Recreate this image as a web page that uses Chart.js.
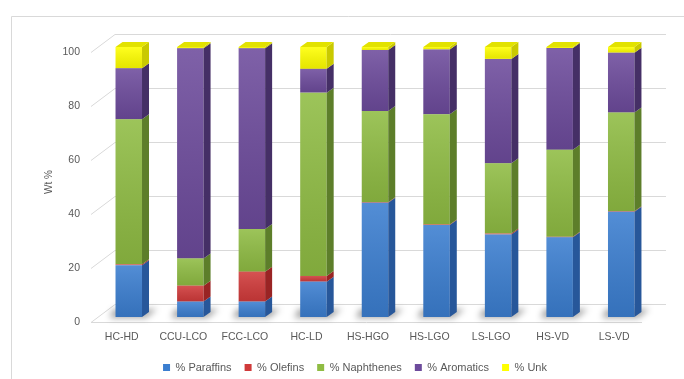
<!DOCTYPE html>
<html>
<head>
<meta charset="utf-8">
<script src="https://cdn.jsdelivr.net/npm/chart.js@4/dist/chart.umd.min.js"></script>
<style>
  html, body { margin: 0; padding: 0; background: #fff; }
  #wrap { width: 684px; height: 379px; position: relative; }
</style>
</head>
<body>
<div id="wrap"><canvas id="chart" width="684" height="379"></canvas></div>
<script>
var categories = ['HC-HD', 'CCU-LCO', 'FCC-LCO', 'HC-LD', 'HS-HGO', 'HS-LGO', 'LS-LGO', 'HS-VD', 'LS-VD'];
var paraffins = [19.2, 5.7, 5.7, 13.1, 42.3, 34.1, 30.6, 29.5, 39.0];
var olefins = [0.3, 5.9, 11.1, 2.1, 0.2, 0.2, 0.3, 0.2, 0.2];
var naphthenes = [53.7, 10.1, 15.8, 67.9, 33.8, 40.8, 26.0, 32.2, 36.5];
var aromatics = [18.9, 77.8, 66.9, 8.8, 22.6, 24.0, 38.7, 37.7, 22.2];
var unk = [7.9, 0.5, 0.5, 8.1, 1.1, 0.9, 4.4, 0.4, 2.1];
var yTicks = [0, 20, 40, 60, 80, 100];

var textColor = '#595959';
var gridColor = '#d9d9d9';
var fontFamily = "'Liberation Sans', Arial, sans-serif";

// 3d look: depth of each column, and depth of the floor / back wall
var barDx = 7, barDy = 5;
var wallDx = 24, wallDy = 18;
var floorDrop = 5; // front edge of the floor sits this far below the column fronts
var legendShift = 9; // legend is centred a bit right of the plot in the original

var series = [
  { label: '% Paraffins', data: paraffins, color: '#3b7ed0', side: '#27579a' },
  { label: '% Olefins', data: olefins, color: '#d03a3a', side: '#992424' },
  { label: '% Naphthenes', data: naphthenes, color: '#8fbc43', side: '#5d7e2a' },
  { label: '% Aromatics', data: aromatics, color: '#6d4b9c', side: '#452f66' },
  { label: '% Unk', data: unk, color: '#ffff00', side: '#c9c900', top: '#e2e200' }
];

var wallPlugin = {
  id: 'wall',
  afterUpdate: function (chart) {
    if (chart.legend) {
      chart.legend.left += legendShift;
      chart.legend.right += legendShift;
    }
  },
  beforeDatasetsDraw: function (chart) {
    var ctx = chart.ctx;
    var area = chart.chartArea;
    var y = chart.scales.y;

    ctx.save();
    // chart border
    ctx.strokeStyle = '#d9d9d9';
    ctx.lineWidth = 1;
    ctx.beginPath();
    ctx.moveTo(11.5, 390);
    ctx.lineTo(11.5, 16.5);
    ctx.lineTo(700, 16.5);
    ctx.stroke();

    // back wall gridlines with the little left-wall diagonals
    ctx.strokeStyle = gridColor;
    yTicks.forEach(function (v) {
      var fy = Math.round(y.getPixelForValue(v) + floorDrop) + 0.5;
      ctx.beginPath();
      ctx.moveTo(area.left - 7, fy);
      ctx.lineTo(area.left - 7 + wallDx, fy - wallDy);
      ctx.lineTo(area.right + 14, fy - wallDy);
      ctx.stroke();
    });
    // front edge of the floor
    var by = Math.round(y.getPixelForValue(0) + floorDrop) + 0.5;
    ctx.beginPath();
    ctx.moveTo(area.left - 7, by);
    ctx.lineTo(area.right - 10, by);
    ctx.stroke();

    // soft shadows under the columns
    var meta = chart.getDatasetMeta(0);
    ctx.filter = 'blur(3px)';
    ctx.fillStyle = 'rgba(0,0,0,0.35)';
    meta.data.forEach(function (bar) {
      var l = bar.x - bar.width / 2;
      var r = bar.x + bar.width / 2;
      var b = bar.base;
      ctx.beginPath();
      ctx.moveTo(l - 6, b + 1);
      ctx.lineTo(r + 4, b + 1);
      ctx.lineTo(r + barDx + 8, b - barDy - 3);
      ctx.lineTo(l - 2, b - barDy - 3);
      ctx.closePath();
      ctx.fill();
    });
    ctx.filter = 'none';
    ctx.restore();
  },
  afterDatasetsDraw: function (chart) {
    var ctx = chart.ctx;
    ctx.save();
    series.forEach(function (s, di) {
      var meta = chart.getDatasetMeta(di);
      meta.data.forEach(function (bar) {
        var l = bar.x - bar.width / 2;
        var r = bar.x + bar.width / 2;
        var t = bar.y;
        var b = bar.base;
        // light to dark shading on the front face
        var g = ctx.createLinearGradient(0, t, 0, b);
        g.addColorStop(0, 'rgba(255,255,255,0.12)');
        g.addColorStop(1, 'rgba(0,0,0,0.10)');
        ctx.fillStyle = g;
        ctx.fillRect(l, t, r - l, b - t);
        // side face
        ctx.fillStyle = s.side;
        ctx.beginPath();
        ctx.moveTo(r, t);
        ctx.lineTo(r + barDx, t - barDy);
        ctx.lineTo(r + barDx, b - barDy);
        ctx.lineTo(r, b);
        ctx.closePath();
        ctx.fill();
        // top cap on the last series
        if (s.top) {
          ctx.fillStyle = s.top;
          ctx.beginPath();
          ctx.moveTo(l, t);
          ctx.lineTo(l + barDx, t - barDy);
          ctx.lineTo(r + barDx, t - barDy);
          ctx.lineTo(r, t);
          ctx.closePath();
          ctx.fill();
        }
      });
    });
    ctx.restore();
  }
};

var ctx = document.getElementById('chart').getContext('2d');
var chart = new Chart(ctx, {
  type: 'bar',
  data: {
    labels: categories,
    datasets: series.map(function (s) {
      return {
        label: s.label,
        data: s.data,
        backgroundColor: s.color,
        borderColor: s.side,
        borderWidth: 0,
        categoryPercentage: 1,
        barPercentage: 0.43
      };
    })
  },
  options: {
    responsive: false,
    animation: false,
    layout: { padding: { top: 47, left: 40, right: 32, bottom: -4 } },
    scales: {
      x: {
        stacked: true,
        grid: { display: false, drawTicks: false },
        border: { display: false },
        ticks: {
          color: textColor,
          font: { family: fontFamily, size: 10.5 },
          padding: 14,
          labelOffset: -7,
          maxRotation: 0
        },
        afterFit: function (scale) { scale.height = 32; }
      },
      y: {
        stacked: true,
        min: 0,
        max: 100,
        grid: { display: false, drawTicks: false },
        border: { display: false },
        ticks: {
          stepSize: 20,
          color: textColor,
          font: { family: fontFamily, size: 10.5 },
          padding: 18,
          labelOffset: 5
        },
        title: {
          display: true,
          text: 'Wt %',
          color: textColor,
          font: { family: fontFamily, size: 10 },
          padding: { top: 3, bottom: 0 }
        },
        afterFit: function (scale) { scale.width = 58; }
      }
    },
    plugins: {
      legend: {
        position: 'bottom',
        labels: {
          boxWidth: 7,
          boxHeight: 7,
          padding: 13,
          color: textColor,
          font: { family: fontFamily, size: 11 }
        }
      },
      tooltip: { enabled: false }
    }
  },
  plugins: [wallPlugin]
});
</script>
</body>
</html>
